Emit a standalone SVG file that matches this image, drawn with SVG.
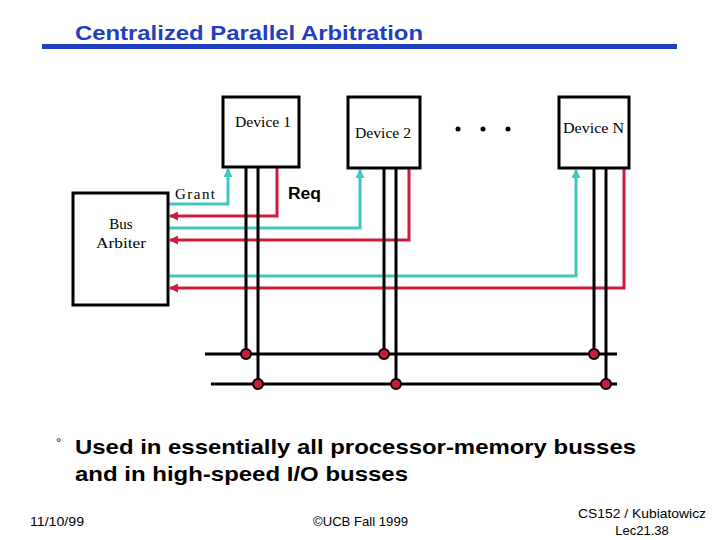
<svg xmlns="http://www.w3.org/2000/svg" width="720" height="540" viewBox="0 0 720 540">
<defs>
<style>
.box{fill:#fff;stroke:#000;stroke-width:3}
.lbl{font-family:"Liberation Serif",serif;font-size:15px;fill:#000}
.cy{fill:none;stroke:#3ec8c0;stroke-width:3}
.rd{fill:none;stroke:#cc1a3c;stroke-width:3}
.bk{fill:none;stroke:#000;stroke-width:3}
.dot{fill:#cc1a3c;stroke:#000;stroke-width:2}
.sans{font-family:"Liberation Sans",Arial,sans-serif}
</style>
<marker id="ac" viewBox="0 0 10 10" refX="9" refY="5" markerWidth="3" markerHeight="3" orient="auto" markerUnits="strokeWidth"><path d="M0,0 L10,5 L0,10 z" fill="#3ec8c0"/></marker>
<marker id="ar" viewBox="0 0 10 10" refX="9" refY="5" markerWidth="3" markerHeight="3" orient="auto" markerUnits="strokeWidth"><path d="M0,0 L10,5 L0,10 z" fill="#cc1a3c"/></marker>
</defs>
<rect width="720" height="540" fill="#fff"/>
<text x="75" y="40" class="sans" font-size="21" fill="#1f3fbf" font-weight="bold" textLength="348" lengthAdjust="spacingAndGlyphs">Centralized Parallel Arbitration</text>
<rect x="42" y="44" width="635" height="5" fill="#1f3fbf"/>

<g id="connectors">
<polyline class="cy" points="168,204 228,204 228,169" marker-end="url(#ac)"/>
<polyline class="rd" points="277,167 277,216 170,216" marker-end="url(#ar)"/>
<polyline class="cy" points="168,228 360,228 360,170" marker-end="url(#ac)"/>
<polyline class="rd" points="409,168 409,240 170,240" marker-end="url(#ar)"/>
<polyline class="cy" points="168,276 576,276 576,170" marker-end="url(#ac)"/>
<polyline class="rd" points="624,168 624,288 170,288" marker-end="url(#ar)"/>
<line class="bk" x1="205" y1="354" x2="617" y2="354"/>
<line class="bk" x1="211" y1="384" x2="617" y2="384"/>
<line class="bk" x1="246" y1="167" x2="246" y2="354"/>
<line class="bk" x1="258" y1="167" x2="258" y2="384"/>
<line class="bk" x1="384" y1="168" x2="384" y2="354"/>
<line class="bk" x1="396" y1="168" x2="396" y2="384"/>
<line class="bk" x1="594" y1="168" x2="594" y2="354"/>
<line class="bk" x1="606" y1="168" x2="606" y2="384"/>
<circle class="dot" cx="246" cy="354" r="5"/>
<circle class="dot" cx="258" cy="384" r="5"/>
<circle class="dot" cx="384" cy="354" r="5"/>
<circle class="dot" cx="396" cy="384" r="5"/>
<circle class="dot" cx="594" cy="354" r="5"/>
<circle class="dot" cx="606" cy="384" r="5"/>
</g>

<g id="device1">
<rect class="box" x="223" y="97" width="76" height="70"/>
<text class="lbl" x="235" y="127" textLength="56" lengthAdjust="spacingAndGlyphs">Device 1</text>
</g>
<g id="device2">
<rect class="box" x="348" y="97" width="72" height="71"/>
<text class="lbl" x="355" y="138" textLength="56" lengthAdjust="spacingAndGlyphs">Device 2</text>
</g>
<g id="ellipsis">
<circle cx="458" cy="129" r="2.5" fill="#000"/>
<circle cx="483" cy="129" r="2.5" fill="#000"/>
<circle cx="508" cy="129" r="2.5" fill="#000"/>
</g>
<g id="deviceN">
<rect class="box" x="559" y="97" width="70" height="71"/>
<text class="lbl" x="563" y="133" textLength="61" lengthAdjust="spacingAndGlyphs">Device N</text>
</g>
<g id="arbiter">
<rect class="box" x="73" y="193" width="95" height="112"/>
<text class="lbl" x="121" y="229" text-anchor="middle">Bus</text>
<text class="lbl" x="96" y="248" textLength="50" lengthAdjust="spacingAndGlyphs">Arbiter</text>
</g>
<text class="lbl" x="175" y="199" textLength="40" lengthAdjust="spacing">Grant</text>
<text x="288" y="199" class="sans" font-size="16" font-weight="bold" textLength="33" lengthAdjust="spacingAndGlyphs">Req</text>

<text x="56" y="447" class="sans" font-size="13">°</text>
<text x="75" y="454" class="sans" font-size="21" font-weight="bold" textLength="561" lengthAdjust="spacingAndGlyphs">Used in essentially all processor-memory busses</text>
<text x="75" y="481" class="sans" font-size="21" font-weight="bold" textLength="333" lengthAdjust="spacingAndGlyphs">and in high-speed I/O busses</text>

<text x="30" y="526" class="sans" font-size="13" textLength="54" lengthAdjust="spacingAndGlyphs">11/10/99</text>
<text x="313" y="526" class="sans" font-size="13" textLength="95" lengthAdjust="spacingAndGlyphs">©UCB Fall 1999</text>
<text x="578" y="518" class="sans" font-size="13" textLength="128" lengthAdjust="spacingAndGlyphs">CS152 / Kubiatowicz</text>
<text x="642" y="535" class="sans" font-size="13" text-anchor="middle">Lec21.38</text>
</svg>
